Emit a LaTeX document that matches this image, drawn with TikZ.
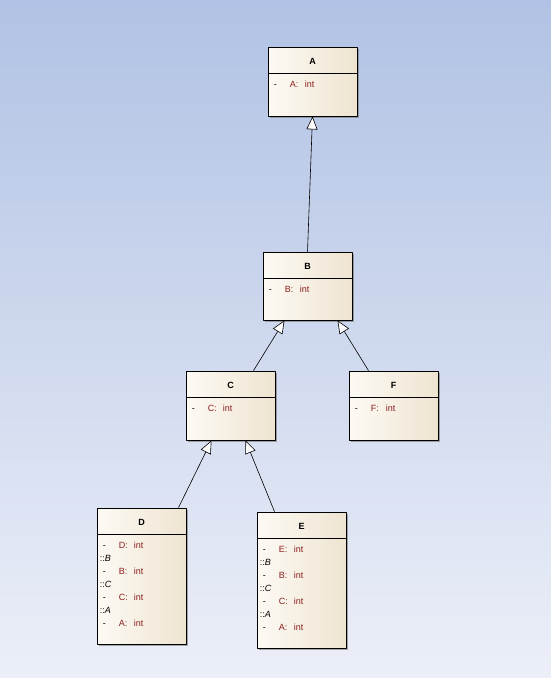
\documentclass[tikz,border=0pt]{standalone}
\usepackage{fontspec}
\setmainfont{Liberation Sans}
\usetikzlibrary{arrows.meta,shadows}
\definecolor{bgtop}{RGB}{177,194,228}
\definecolor{bgbot}{RGB}{236,239,248}
\definecolor{boxl}{RGB}{253,250,244}
\definecolor{boxr}{RGB}{238,228,209}
\definecolor{attrcol}{RGB}{140,30,30}
\newcommand{\attrtxt}[1]{\makebox[16pt][l]{-}\textcolor{attrcol}{\makebox[15pt][l]{#1:}int}}
\newcommand{\scopetxt}[1]{::\textit{#1}}
\tikzset{
  classbox/.style={draw, line width=0.8pt, left color=boxl, right color=boxr,
    minimum width=89pt, minimum height=#1, inner sep=0pt,
    drop shadow={shadow xshift=2pt, shadow yshift=-2pt, fill=black!55, opacity=0.6}},
  ctitle/.style={font=\fontsize{9}{11}\selectfont\bfseries, inner sep=0pt},
  crow/.style={font=\fontsize{9}{11}\selectfont, anchor=base west, inner sep=0pt},
  inherit/.style={-{Triangle[open, fill=white, length=13pt, width=11pt]}, line width=0.6pt},
}
\begin{document}
\begin{tikzpicture}[x=1pt, y=-1pt, line join=round]
% background
\shade[top color=bgtop, bottom color=bgbot] (0,0) rectangle (551,678);
\useasboundingbox (0,0) rectangle (551,678);
% classes
\node[classbox=69pt] (A) at (312.5,81.5) {};
\node[classbox=68pt] (B) at (307.5,286) {};
\node[classbox=69pt] (C) at (230.5,405.5) {};
\node[classbox=69pt] (F) at (393.5,405.5) {};
\node[classbox=136pt] (D) at (141.5,576) {};
\node[classbox=136pt] (E) at (301.5,580) {};
% titles, dividers, single attributes
\foreach \c in {A,B,C,F,D,E}{
  \node[ctitle] (\c-t) at ([yshift=-15pt]\c.north) {\c};
  \draw[line width=0.6pt] ([yshift=-27pt]\c.north west) -- ([yshift=-27pt]\c.north east);
}
\foreach \c in {A,B,C,F}
  \node[crow] (\c-1) at ([xshift=6pt,yshift=-41pt]\c.north west) {\attrtxt{\c}};
% flattened attributes
\foreach \c in {D,E}
  \foreach \dx/\t [count=\i from 0] in {6/{\attrtxt{\c}}, 3/{\scopetxt{B}}, 6/{\attrtxt{B}},
      3/{\scopetxt{C}}, 6/{\attrtxt{C}}, 3/{\scopetxt{A}}, 6/{\attrtxt{A}}}
    \node[crow] (\c-r\i) at ([xshift=\dx pt,yshift={-41pt-13pt*\i}]\c.north west) {\t};
% generalizations
\draw[inherit] (B.north) -- (A.south);
\draw[inherit] ([xshift=23pt]C.north) -- ([xshift=-23pt]B.south);
\draw[inherit] ([xshift=-25pt]F.north) -- ([xshift=30pt]B.south);
\draw[inherit] ([xshift=37pt]D.north) -- ([xshift=-19pt]C.south);
\draw[inherit] ([xshift=-27pt]E.north) -- ([xshift=15pt]C.south);
\end{tikzpicture}
\end{document}
